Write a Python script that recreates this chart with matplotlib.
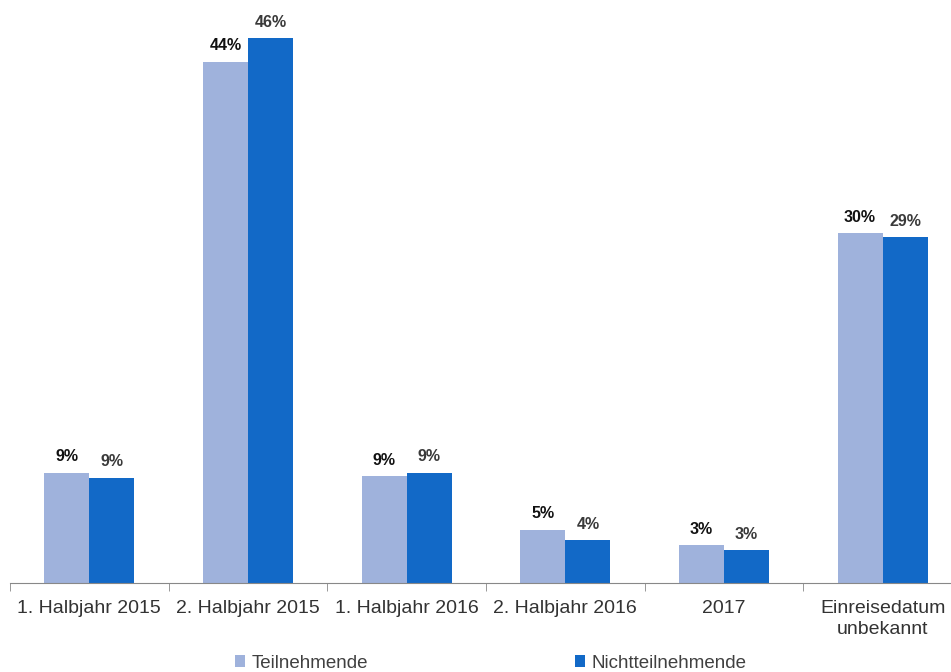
import numpy as np
import matplotlib.pyplot as plt
from matplotlib.ticker import FixedLocator

plt.rcParams['font.family'] = ['Liberation Sans', 'DejaVu Sans']

categories = ['1. Halbjahr 2015', '2. Halbjahr 2015', '1. Halbjahr 2016',
              '2. Halbjahr 2016', '2017', 'Einreisedatum\nunbekannt']
teil = [9.3, 44.0, 9.0, 4.5, 3.2, 29.5]
nicht = [8.9, 46.0, 9.3, 3.6, 2.8, 29.2]
teil_labels = ['9%', '44%', '9%', '5%', '3%', '30%']
nicht_labels = ['9%', '46%', '9%', '4%', '3%', '29%']

c_teil = '#9fb2dc'
c_nicht = '#1269c7'

fig = plt.figure(figsize=(9.51, 6.72), dpi=100)
ax = fig.add_axes([0.0105, 0.1324, 1.001, 0.864])

x = np.arange(len(categories))
w = 0.284
b1 = ax.bar(x - w/2, teil, w, color=c_teil, label='Teilnehmende')
b2 = ax.bar(x + w/2, nicht, w, color=c_nicht, label='Nichtteilnehmende')

for rect, lab in zip(b1, teil_labels):
    ax.annotate(lab, (rect.get_x() + rect.get_width()/2, rect.get_height()),
                xytext=(0, 6), textcoords='offset points', ha='center', va='bottom',
                fontsize=11.5, fontweight='bold', color='#111111')
for rect, lab in zip(b2, nicht_labels):
    ax.annotate(lab, (rect.get_x() + rect.get_width()/2, rect.get_height()),
                xytext=(0, 6), textcoords='offset points', ha='center', va='bottom',
                fontsize=11.5, fontweight='bold', color='#3a3a3a')

ax.set_xlim(-0.5, len(categories) - 0.5)
ax.set_ylim(0, 49)
ax.set_xticks(x)
ax.set_xticklabels(categories, fontsize=14, color='#333333', linespacing=1.3)
ax.tick_params(axis='x', which='major', length=0, pad=12)
ax.xaxis.set_minor_locator(FixedLocator(np.arange(-0.5, len(categories), 1)))
ax.tick_params(axis='x', which='minor', length=6, color='#888888', direction='out')
ax.set_yticks([])
for s in ['top', 'right', 'left']:
    ax.spines[s].set_visible(False)
ax.spines['bottom'].set_color('#888888')

fig.legend(handles=[b1, b2], loc='center', bbox_to_anchor=(0.516, 0.013),
           ncol=2, frameon=False, fontsize=13.5, labelcolor='#404040',
           handlelength=0.55, handleheight=0.55, handletextpad=0.35,
           columnspacing=11.0)

fig.savefig('out.png', dpi=100)
